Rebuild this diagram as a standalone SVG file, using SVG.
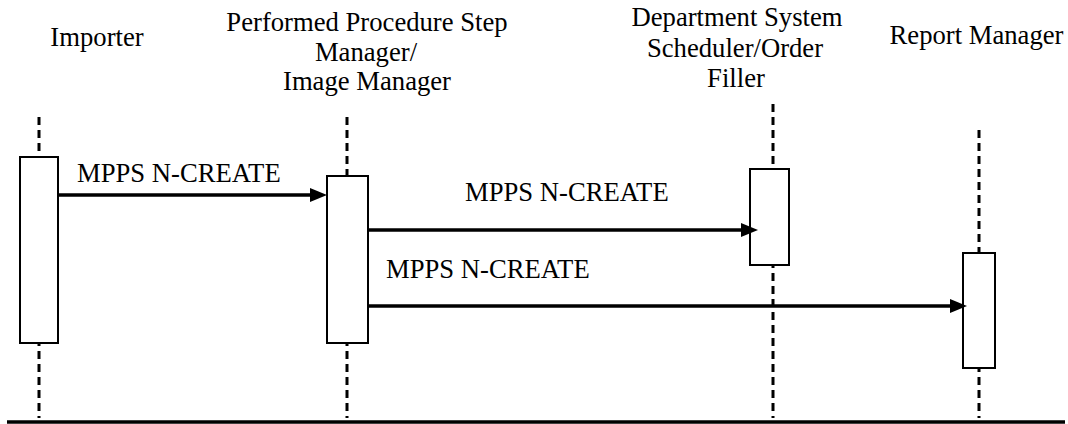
<svg xmlns="http://www.w3.org/2000/svg" width="1068" height="424" viewBox="0 0 1068 424">
  <style>
    .t { font-family: 'Liberation Serif', 'Times New Roman', Times, serif; font-size: 26.67px; fill: #000; }
    .hdr { text-anchor: middle; }
    .life { stroke: #000; stroke-width: 3; stroke-dasharray: 8 5; fill: none; }
    .act { fill: #fff; stroke: #000; stroke-width: 2; }
    .msg { stroke: #000; stroke-width: 3.5; fill: none; marker-end: url(#arrow); }
  </style>
  <defs>
    <marker id="arrow" viewBox="0 0 17 14" refX="7" refY="7" markerWidth="17" markerHeight="14" markerUnits="userSpaceOnUse" orient="auto">
      <path d="M0,0 L17,7 L0,14 z" fill="#000"/>
    </marker>
  </defs>
  <rect x="0" y="0" width="1068" height="424" fill="#fff"/>

  <g id="importer">
    <text class="t hdr" font-family="Liberation Serif, serif" x="97" y="46">Importer</text>
    <line class="life" x1="39" y1="117" x2="39" y2="418"/>
    <rect class="act" x="20" y="157" width="38" height="186"/>
  </g>

  <g id="ppsm">
    <text class="t hdr" font-family="Liberation Serif, serif" x="367" y="31">Performed Procedure Step</text>
    <text class="t hdr" font-family="Liberation Serif, serif" x="366" y="61">Manager/</text>
    <text class="t hdr" font-family="Liberation Serif, serif" x="367" y="90">Image Manager</text>
    <line class="life" x1="347" y1="117" x2="347" y2="418"/>
    <rect class="act" x="327" y="176" width="41" height="167"/>
  </g>

  <g id="dss">
    <text class="t hdr" font-family="Liberation Serif, serif" x="737" y="26">Department System</text>
    <text class="t hdr" font-family="Liberation Serif, serif" x="735" y="57">Scheduler/Order</text>
    <text class="t hdr" font-family="Liberation Serif, serif" x="736" y="87">Filler</text>
    <line class="life" x1="773" y1="104" x2="773" y2="418"/>
    <rect class="act" x="750" y="169" width="39" height="96"/>
  </g>

  <g id="report-manager">
    <text class="t hdr" font-family="Liberation Serif, serif" x="976.5" y="44">Report Manager</text>
    <line class="life" x1="979" y1="130" x2="979" y2="418"/>
    <rect class="act" x="963" y="253" width="32" height="115"/>
  </g>

  <g id="connectors">
    <line class="msg" x1="58" y1="195" x2="317" y2="195"/>
    <text class="t" font-family="Liberation Serif, serif" x="77" y="182">MPPS N-CREATE</text>
    <line class="msg" x1="368" y1="230" x2="748" y2="230"/>
    <text class="t" font-family="Liberation Serif, serif" x="465" y="201">MPPS N-CREATE</text>
    <line class="msg" x1="368" y1="306" x2="957" y2="306"/>
    <text class="t" font-family="Liberation Serif, serif" x="386" y="278">MPPS N-CREATE</text>
  </g>

  <line x1="7" y1="422" x2="1065" y2="422" stroke="#000" stroke-width="3.5"/>
</svg>
